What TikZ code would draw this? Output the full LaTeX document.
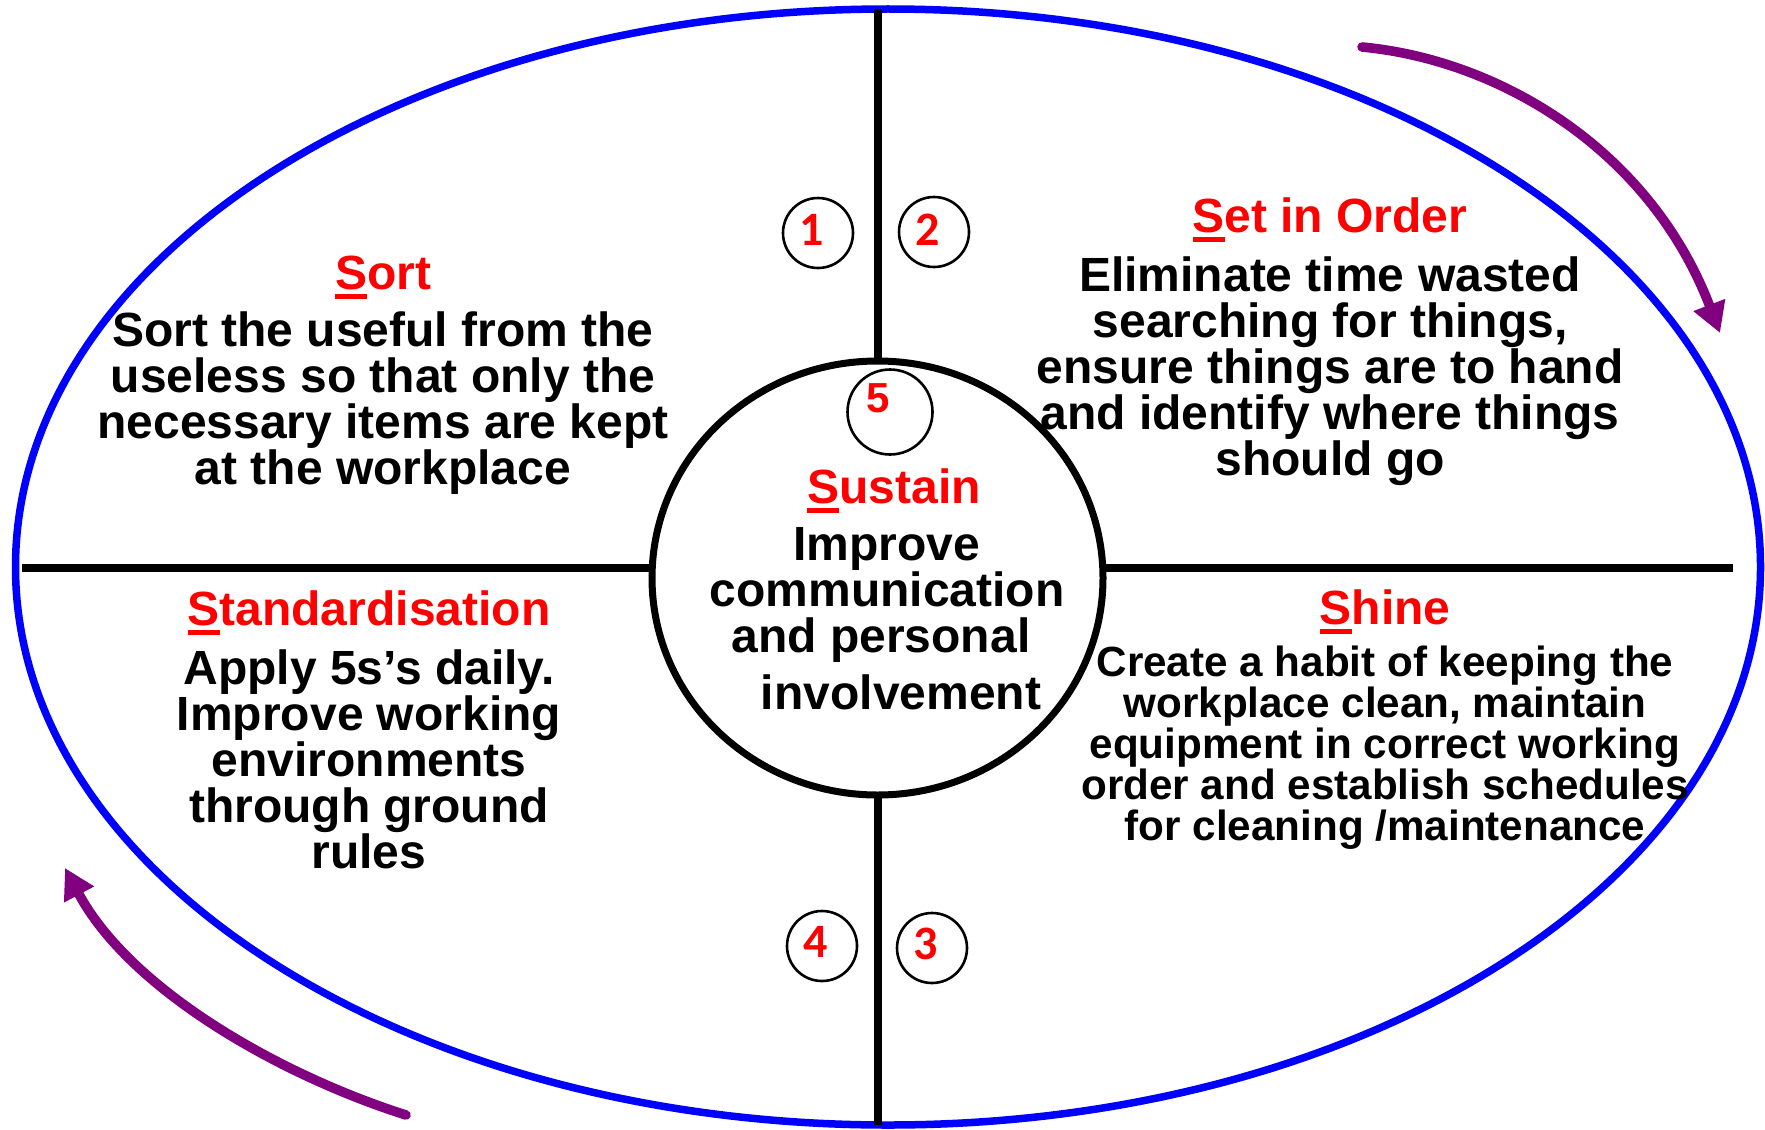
\documentclass[tikz,border=0pt]{standalone}
\usepackage{fontspec}
\setmainfont{Liberation Sans}
\newfontfamily\numfont{Carlito}
\usetikzlibrary{shapes.geometric,arrows.meta}

\definecolor{ringblue}{HTML}{0000FF}
\definecolor{headred}{HTML}{FF0000}
\definecolor{cyclepurple}{HTML}{800080}

% underline the first letter of a heading
\newcommand\ulfirst[1]{\sbox0{#1}\rlap{\rule[-5pt]{\wd0}{2.75pt}}\usebox0}

\tikzset{
  heading/.style={anchor=base, inner sep=0pt, text=headred,
    font=\bfseries\fontsize{24pt}{23pt}\selectfont},
  bodytext/.style={anchor=north, inner sep=0pt, align=center,
    font=\bfseries\fontsize{24pt}{23pt}\selectfont},
  smallbody/.style={anchor=north, inner sep=0pt, align=center,
    font=\bfseries\fontsize{21.1pt}{20.5pt}\selectfont},
  divider/.style={line width=4pt},
  numring/.style={circle, draw, line width=1.3pt, minimum size=35pt,
    inner sep=0pt, outer sep=0pt},
  numdigit/.style={text=headred, inner sep=0pt,
    font=\numfont\bfseries\fontsize{24pt}{24pt}\selectfont},
  cyclearrow/.style={cyclepurple, line width=4.8pt, line cap=round,
    -{Triangle[length=15pt,width=16pt]}},
}

\begin{document}
\begin{tikzpicture}[x=0.5pt,y=-0.5pt]
\useasboundingbox (0,0) rectangle (1765,1129);

% outer ring
\node[ellipse, draw=ringblue, line width=3.75pt, minimum width=872.5pt,
  minimum height=558pt, inner sep=0pt, outer sep=0pt] (outer) at (888,567) {};

% horizontal dividers
\coordinate (hl1) at (22,568);
\coordinate (hl2) at (653,568);
\coordinate (hr1) at (1103,568);
\coordinate (hr2) at (1733,568);
\draw[divider] (hl1) -- (hl2);
\draw[divider] (hr1) -- (hr2);

% centre circle
\node[ellipse, draw, fill=white, line width=3.5pt, minimum width=225.5pt,
  minimum height=217pt, inner sep=0pt, outer sep=0pt] (mid) at (877.5,578) {};

% vertical dividers
\draw[divider] (mid.north) -- (mid.north |- outer.north);
\draw[divider] (mid.south) -- (mid.south |- outer.south);

% numbered rings
\node[numring, label={[numdigit, xshift=-3pt, yshift=1.5pt]center:1}] (n1) at (818,233) {};
\node[numring, label={[numdigit, xshift=-3pt, yshift=1pt]center:2}] (n2) at (934,232) {};
\node[numring, label={[numdigit, xshift=-3pt, yshift=2pt]center:3}] (n3) at (932,948) {};
\node[numring, label={[numdigit, xshift=-3pt, yshift=2pt]center:4}] (n4) at (822,946) {};
\node[numring, minimum size=42.5pt,
  label={[text=headred, inner sep=0pt, font=\bfseries\fontsize{21pt}{21pt}\selectfont,
    xshift=-6pt, yshift=7pt]center:5}] (n5) at (890,412) {};

% Sort
\node[heading] (sorth) at (383,289) {\ulfirst{S}ort};
\node[bodytext] (sortb) at (383,311) {Sort the useful from the\\useless so that only the\\necessary items are kept\\at the workplace};

% Set in Order
\node[heading] (seth) at (1330,232) {\ulfirst{S}et in Order};
\node[bodytext] (setb) at (1330,256) {Eliminate time wasted\\searching for things,\\ensure things are to hand\\and identify where things\\should go};

% Standardisation
\node[heading] (stdh) at (369,625) {\ulfirst{S}tandardisation};
\node[bodytext] (stdb) at (369,649) {Apply 5s’s daily.\\Improve working\\environments\\through ground\\rules};

% Shine
\node[heading] (shih) at (1385,624) {\ulfirst{S}hine};
\node[smallbody] (shib) at (1385,646) {Create a habit of keeping the\\workplace clean, maintain\\equipment in correct working\\order and establish schedules\\for cleaning /maintenance};

% Sustain
\node[heading] (sush) at (894,503) {\ulfirst{S}ustain};
\node[bodytext] (susb) at (887,527) {Improve\\communication\\and personal\rule{6pt}{0pt}\\[5.5pt]\rule{14pt}{0pt}involvement};

% direction of the cycle
\coordinate (tra) at (1362,47);
\coordinate (trb) at (1720,333);
\coordinate (bla) at (406,1115);
\coordinate (blb) at (65,868);
\draw[cyclearrow] (tra) .. controls (1500,60) and (1650,150) .. (trb);
\draw[cyclearrow] (bla) .. controls (280,1075) and (130,990) .. (blb);
\end{tikzpicture}
\end{document}
